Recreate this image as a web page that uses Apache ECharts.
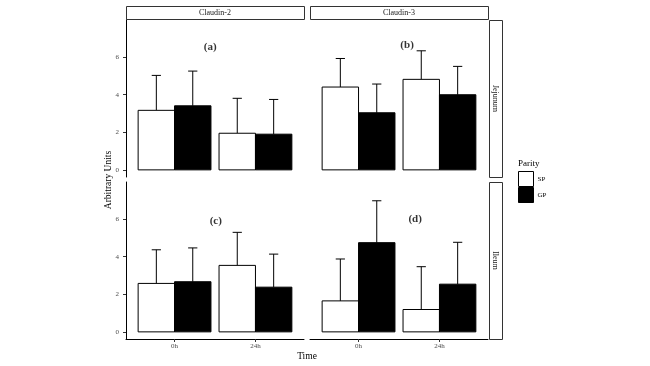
<!DOCTYPE html>
<html>
<head>
<meta charset="utf-8">
<script src="https://cdn.jsdelivr.net/npm/echarts@6/dist/echarts.min.js"></script>
<style>html,body{margin:0;padding:0;background:#fff}#c{width:650px;height:366px}</style>
</head>
<body>
<div id="c"></div>
<script>
// ---- data ----
const categories = ['0h', '24h'];
const genes = ['Claudin-2', 'Claudin-3'];
const tissues = ['Jejunum', 'Ileum'];
const panelLabels = ['(a)', '(b)', '(c)', '(d)'];
const groups = ['SP', 'GP'];
const yTicks = [0, 2, 4, 6];
// mean values, order: panel (a) Jejunum/Claudin-2, (b) Jejunum/Claudin-3, (c) Ileum/Claudin-2, (d) Ileum/Claudin-3
const spMean_a = [3.17, 1.95];
const gpMean_a = [3.41, 1.90];
const spMean_b = [4.41, 4.82];
const gpMean_b = [3.04, 4.00];
const spMean_c = [2.58, 3.54];
const gpMean_c = [2.67, 2.38];
const spMean_d = [1.65, 1.19];
const gpMean_d = [4.75, 2.54];
// upper whisker values
const spUpper_a = [5.03, 3.81];
const gpUpper_a = [5.26, 3.75];
const spUpper_b = [5.93, 6.34];
const gpUpper_b = [4.57, 5.51];
const spUpper_c = [4.37, 5.30];
const gpUpper_c = [4.47, 4.14];
const spUpper_d = [3.88, 3.47];
const gpUpper_d = [6.98, 4.77];

// ---- layout ----
const FONT = 'Liberation Serif';
const colLeft = [126, 310];
const rowTop = [20, 182];
const PW = 178, PH = 157;
const panels = [
  {row: 0, col: 0, sp: spMean_a, gp: gpMean_a, spu: spUpper_a, gpu: gpUpper_a, lab: [1.44, 6.55]},
  {row: 0, col: 1, sp: spMean_b, gp: gpMean_b, spu: spUpper_b, gpu: gpUpper_b, lab: [1.60, 6.64]},
  {row: 1, col: 0, sp: spMean_c, gp: gpMean_c, spu: spUpper_c, gpu: gpUpper_c, lab: [1.51, 5.90]},
  {row: 1, col: 1, sp: spMean_d, gp: gpMean_d, spu: spUpper_d, gpu: gpUpper_d, lab: [1.70, 5.98]}
];

const grid = [], xAxis = [], yAxis = [], series = [];
panels.forEach((p, i) => {
  grid.push({left: colLeft[p.col], top: rowTop[p.row], width: PW, height: PH, containLabel: false});
  const showX = p.row === 1, showY = p.col === 0;
  xAxis.push({
    type: 'value', gridIndex: i, min: 0.4, max: 2.6,
    axisLine: {show: showX, onZero: false, lineStyle: {color: '#000', width: 1}},
    axisTick: {show: showX, length: 3, lineStyle: {color: '#333'}, customValues: [1, 2]},
    axisLabel: {show: showX, customValues: [1, 2], margin: 4, fontFamily: FONT, fontSize: 7, color: '#4d4d4d',
      formatter: v => categories[Math.round(v) - 1] || ''},
    splitLine: {show: false}
  });
  yAxis.push({
    type: 'value', gridIndex: i, min: -0.38, max: 7.98,
    axisLine: {show: showY, onZero: false, lineStyle: {color: '#000', width: 1}},
    axisTick: {show: showY, length: 3, lineStyle: {color: '#333'}, customValues: yTicks},
    axisLabel: {show: showY, customValues: yTicks, margin: 7, fontFamily: FONT, fontSize: 7, color: '#4d4d4d'},
    splitLine: {show: false}
  });
  const mk = (name, means, uppers, fill, side) => ({
    type: 'custom', name: name, xAxisIndex: i, yAxisIndex: i,
    itemStyle: {color: fill, borderColor: '#000', borderWidth: 1},
    data: means.map((m, k) => [k + 1, m, uppers[k]]),
    encode: {x: 0, y: [1, 2]},
    renderItem: (params, api) => {
      const x = api.value(0), m = api.value(1), u = api.value(2);
      const c = x + side * 0.225;
      const a = api.coord([c - 0.225, m]);
      const b = api.coord([c + 0.225, 0]);
      const base = api.coord([c, m]);
      const top = api.coord([c, u]);
      const cl = api.coord([c - 0.057, u]);
      const cr = api.coord([c + 0.057, u]);
      return {type: 'group', children: [
        {type: 'line', shape: {x1: base[0], y1: base[1], x2: top[0], y2: top[1]}, style: {stroke: '#000', lineWidth: 1}},
        {type: 'line', shape: {x1: cl[0], y1: cl[1], x2: cr[0], y2: cr[1]}, style: {stroke: '#000', lineWidth: 1}},
        {type: 'rect', shape: {x: a[0], y: a[1], width: b[0] - a[0], height: b[1] - a[1]}, style: {fill: fill, stroke: '#000', lineWidth: 1}}
      ]};
    }
  });
  series.push(mk(groups[0], p.sp, p.spu, '#ffffff', -1));
  series.push(mk(groups[1], p.gp, p.gpu, '#000000', 1));
  // panel label
  series.push({
    type: 'scatter', xAxisIndex: i, yAxisIndex: i, symbolSize: 0, silent: true,
    data: [p.lab],
    label: {show: true, position: 'inside', formatter: panelLabels[i], fontFamily: FONT, fontWeight: 'bold', fontSize: 11, color: '#000'}
  });
});

const graphic = [];
// top strips
genes.forEach((g, c) => {
  graphic.push({type: 'rect', left: colLeft[c], top: 6, shape: {width: PW, height: 13}, style: {fill: '#fff', stroke: '#333', lineWidth: 1}});
  graphic.push({type: 'text', x: colLeft[c] + PW / 2, y: 12.5, style: {text: g, fontFamily: FONT, fontSize: 8, fill: '#1a1a1a', textAlign: 'center', textVerticalAlign: 'middle'}});
});
// right strips
tissues.forEach((t, r) => {
  graphic.push({type: 'rect', left: 489, top: rowTop[r], shape: {width: 13, height: PH}, style: {fill: '#fff', stroke: '#333', lineWidth: 1}});
  graphic.push({type: 'text', x: 495.5, y: rowTop[r] + PH / 2, rotation: -Math.PI / 2, style: {text: t, fontFamily: FONT, fontSize: 8, fill: '#1a1a1a', textAlign: 'center', textVerticalAlign: 'middle'}});
});
// axis titles
graphic.push({type: 'text', x: 108, y: 180, rotation: Math.PI / 2, style: {text: 'Arbitrary Units', fontFamily: FONT, fontSize: 9.5, fill: '#000', textAlign: 'center', textVerticalAlign: 'middle'}});
graphic.push({type: 'text', x: 307, y: 356, style: {text: 'Time', fontFamily: FONT, fontSize: 9.5, fill: '#000', textAlign: 'center', textVerticalAlign: 'middle'}});
// legend title
graphic.push({type: 'text', x: 518, y: 164, style: {text: 'Parity', fontFamily: FONT, fontSize: 9, fill: '#000', textAlign: 'left', textVerticalAlign: 'middle'}});

const chart = echarts.init(document.getElementById('c'), null, {renderer: 'canvas'});
chart.setOption({
  animation: false,
  backgroundColor: '#fff',
  grid, xAxis, yAxis, series, graphic,
  legend: {
    orient: 'vertical', left: 518, top: 171, itemWidth: 15, itemHeight: 15, itemGap: 0, padding: 0,
    icon: 'rect', selectedMode: false,
    textStyle: {fontFamily: FONT, fontSize: 7, color: '#000', padding: [0, 0, 0, -1]},
    data: [
      {name: 'SP', itemStyle: {color: '#fff', borderColor: '#000', borderWidth: 1}},
      {name: 'GP', itemStyle: {color: '#000', borderColor: '#000', borderWidth: 1}}
    ]
  }
});
</script>
</body>
</html>
